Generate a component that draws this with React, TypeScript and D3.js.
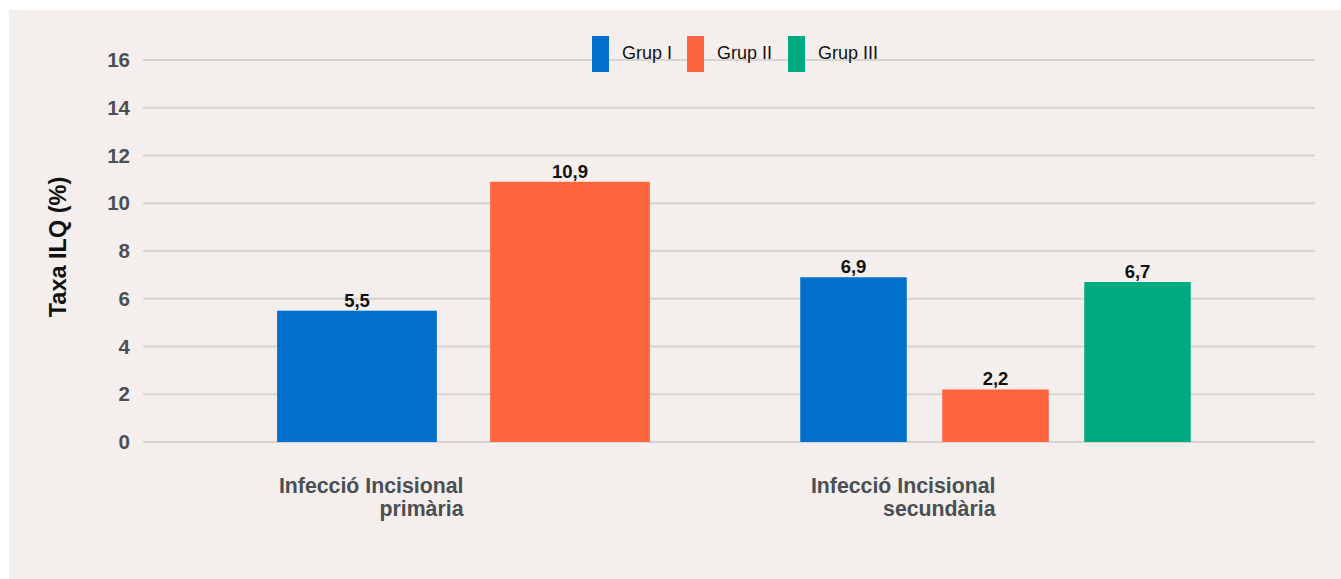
import React from "react";
import * as d3 from "d3";

const categories = [["Infecció Incisional", "primària"], ["Infecció Incisional", "secundària"]];
const series = ["Grup I", "Grup II", "Grup III"];
const colors = ["#0070CC", "#FF6640", "#00AA80"];
// values per category; null = not present
const grupI = [5.5, 6.9];
const grupII = [10.9, 2.2];
const grupIII = [null, 6.7];
const yTicks = [0, 2, 4, 6, 8, 10, 12, 14, 16];

const W = 1341;
const H = 579;
const FONT = "Liberation Sans, Arial, sans-serif";

export default function App() {
  const values = [grupI, grupII, grupIII];
  const y = d3.scaleLinear().domain([0, 16]).range([442, 60]);
  const x0 = d3.scaleBand<number>().domain([0, 1]).range([197.5, 1261.5]);
  const fmt = (v: number) => v.toFixed(1).replace(".", ",");

  return (
    <svg width={W} height={H} style={{ position: "absolute", left: 0, top: 0 }}>
      <rect x={9} y={10} width={W - 9} height={H - 10} fill="#F4EFEC" />
      {yTicks.map((t) => (
        <g key={t}>
          <line x1={143} x2={1315} y1={y(t)} y2={y(t)} stroke="#D6D4D2" strokeWidth={2} />
          <text x={130} y={y(t)} dy="0.35em" textAnchor="end" fontFamily={FONT} fontWeight="bold" fontSize={20.5} fill="#4A4F55">
            {t}
          </text>
        </g>
      ))}
      <text transform="translate(66,247) rotate(-90)" textAnchor="middle" fontFamily={FONT} fontWeight="bold" fontSize={23.5} fill="#111">
        Taxa ILQ (%)
      </text>
      {categories.map((cat, ci) => {
        const present = series.map((_, si) => si).filter((si) => values[si][ci] != null);
        const x1 = d3.scaleBand<number>().domain(present).range([-213, 213]).paddingInner(0.25).paddingOuter(0.125);
        const cx = (x0(ci) as number) + x0.bandwidth() / 2;
        return (
          <g key={ci}>
            {present.map((si) => {
              const v = values[si][ci] as number;
              const bx = cx + (x1(si) as number);
              return (
                <g key={si}>
                  <rect x={bx} y={y(v)} width={x1.bandwidth()} height={y(0) - y(v)} fill={colors[si]} />
                  <text x={bx + x1.bandwidth() / 2} y={y(v) - 4} textAnchor="middle" fontFamily={FONT} fontWeight="bold" fontSize={18.5} fill="#111">
                    {fmt(v)}
                  </text>
                </g>
              );
            })}
            {cat.map((line, li) => (
              <text key={li} x={cx} y={493 + li * 23} textAnchor="end" fontFamily={FONT} fontWeight="bold" fontSize={21.3} fill="#4A4F55">
                {line}
              </text>
            ))}
          </g>
        );
      })}
      {series.map((s, si) => {
        const lx = [592, 687, 788][si];
        return (
          <g key={s}>
            <rect x={lx} y={36} width={17} height={36} fill={colors[si]} />
            <text x={lx + 30} y={53} dy="0.35em" fontFamily={FONT} fontSize={18} fill="#111">
              {s}
            </text>
          </g>
        );
      })}
    </svg>
  );
}
